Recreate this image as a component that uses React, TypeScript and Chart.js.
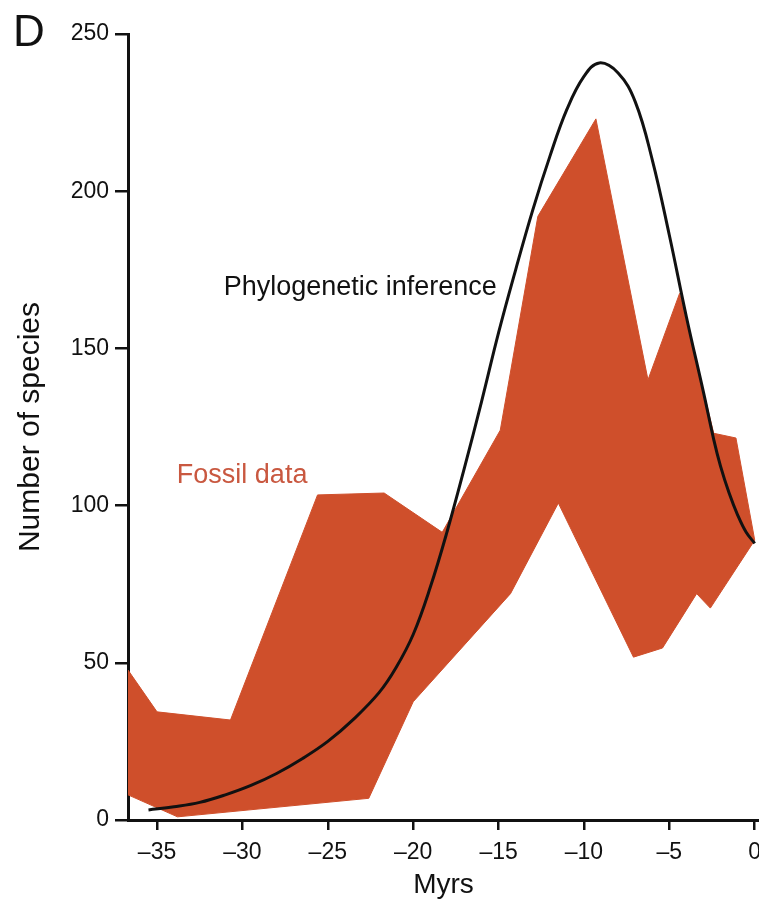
import React, { useEffect, useRef } from "react";
import { Chart, registerables } from "chart.js";

Chart.register(...registerables);

// Axis ticks
const xTicks = [-35, -30, -25, -20, -15, -10, -5, 0];
const yTicks = [0, 50, 100, 150, 200, 250];

// Fossil data band (upper and lower edges), Myrs vs number of species
const fossilUpperX = [-36.7, -35.0, -30.7, -25.6, -21.7, -18.3, -14.9, -12.7, -9.3, -6.25, -4.4, -2.4, -1.1, 0];
const fossilUpperY = [47.7, 34.4, 31.8, 103.4, 104, 91.5, 124, 192, 223, 140, 167.5, 123, 121.5, 89];
const fossilLowerX = [-36.7, -33.8, -22.6, -20.0, -14.3, -11.5, -7.1, -5.4, -3.4, -2.6, 0];
const fossilLowerY = [8, 1, 6.9, 37.6, 72, 100.8, 51.8, 54.7, 72, 67.4, 89];

// Phylogenetic inference curve
const curveX = [-35.5, -34, -32.5, -31, -29.5, -28, -26.5, -25, -23.5, -22, -21, -20, -19, -18, -17, -16, -15, -14, -13, -12, -11, -10, -9.1, -8, -7, -6, -5, -4, -3, -2.4, -2, -1.5, -1, -0.5, 0];
const curveY = [3.2, 4.2, 5.6, 8, 11, 14.8, 19.5, 25, 32, 40.5, 48.5, 59, 74, 92, 112, 133, 155, 175, 194, 211, 226, 236.5, 240.8, 237.6, 228.5, 210, 186, 160, 136, 121, 112.5, 104, 97, 91.5, 88];

const FONT = "'Liberation Sans', Arial, Helvetica, sans-serif";
const RED = "#cf4f2b";
const INK = "#111111";

export default function App() {
  const ref = useRef<HTMLCanvasElement>(null);

  useEffect(() => {
    document.body.style.margin = "0";
    const canvas = ref.current;
    if (!canvas) return;

    const textPlugin = {
      id: "panelText",
      afterDatasetsDraw(chart: any) {
        const { ctx } = chart;
        const x = chart.scales.x;
        const y = chart.scales.y;
        ctx.save();
        ctx.font = `27px ${FONT}`;
        ctx.fillStyle = INK;
        ctx.textAlign = "right";
        ctx.textBaseline = "middle";
        ctx.fillText("Phylogenetic inference", x.getPixelForValue(-15.1), y.getPixelForValue(169.5));
        ctx.fillStyle = "#c95840";
        ctx.textAlign = "left";
        ctx.fillText("Fossil data", x.getPixelForValue(-33.84), y.getPixelForValue(109.5));
        ctx.font = `44px ${FONT}`;
        ctx.fillStyle = INK;
        ctx.textBaseline = "alphabetic";
        ctx.fillText("D", 13, 46);
        ctx.restore();
      },
    };

    const chart = new Chart(canvas, {
      type: "line",
      data: {
        datasets: [
          {
            label: "Phylogenetic inference",
            data: curveX.map((v, i) => ({ x: v, y: curveY[i] })),
            borderColor: INK,
            borderWidth: 3,
            pointRadius: 0,
            fill: false,
            tension: 0.4,
            order: 0,
          },
          {
            label: "Fossil upper",
            data: fossilUpperX.map((v, i) => ({ x: v, y: fossilUpperY[i] })),
            borderColor: RED,
            backgroundColor: RED,
            borderWidth: 1,
            pointRadius: 0,
            tension: 0,
            fill: "+1",
            order: 1,
          },
          {
            label: "Fossil lower",
            data: fossilLowerX.map((v, i) => ({ x: v, y: fossilLowerY[i] })),
            borderColor: RED,
            backgroundColor: RED,
            borderWidth: 1,
            pointRadius: 0,
            tension: 0,
            fill: false,
            order: 2,
          },
        ],
      },
      options: {
        responsive: false,
        animation: false,
        devicePixelRatio: 1,
        layout: { padding: { top: 34, left: 0, right: 0, bottom: 0 } },
        plugins: { legend: { display: false }, tooltip: { enabled: false } },
        scales: {
          x: {
            type: "linear",
            min: -36.7,
            max: 0.25,
            z: 1,
            afterBuildTicks: (s: any) => {
              s.ticks = xTicks.map((v) => ({ value: v }));
            },
            afterFit: (s: any) => {
              s.height = 87;
              s.paddingLeft = 0;
              s.paddingRight = 0;
            },
            ticks: {
              autoSkip: false,
              maxRotation: 0,
              padding: 9,
              color: INK,
              font: { size: 23, family: FONT },
              callback: (v: any) => (Number(v) < 0 ? "\u2013" + Math.abs(Number(v)) : String(v)),
            },
            grid: { display: true, drawOnChartArea: false, drawTicks: true, tickLength: 10, color: INK, lineWidth: 2.5 },
            border: { display: true, color: INK, width: 3 },
            title: { display: true, text: "Myrs", color: INK, font: { size: 28, family: FONT }, padding: { top: 0, bottom: 5 } },
          },
          y: {
            type: "linear",
            min: 0,
            max: 250,
            z: 1,
            afterBuildTicks: (s: any) => {
              s.ticks = yTicks.map((v) => ({ value: v }));
            },
            afterFit: (s: any) => {
              s.width = 128;
            },
            ticks: { padding: 6, color: INK, font: { size: 23, family: FONT } },
            grid: { display: true, drawOnChartArea: false, drawTicks: true, tickLength: 13, color: INK, lineWidth: 2.5 },
            border: { display: true, color: INK, width: 3 },
            title: { display: true, text: "Number of species", color: INK, font: { size: 30, family: FONT }, padding: { top: 13, bottom: 0 } },
          },
        },
      },
      plugins: [textPlugin],
    });

    return () => chart.destroy();
  }, []);

  return <canvas ref={ref} width={759} height={907} style={{ display: "block", width: 759, height: 907 }} />;
}
